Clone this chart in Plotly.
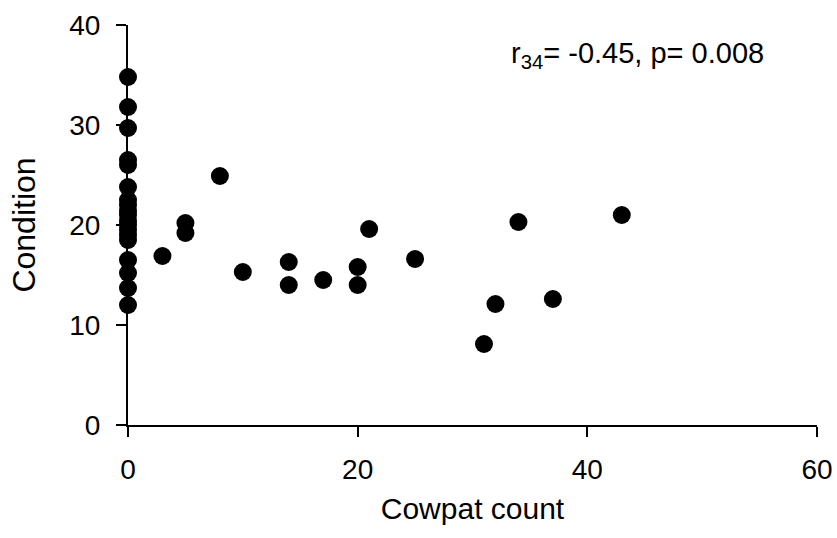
import plotly.graph_objects as go

# Data
cowpat_count = [0]*19 + [3, 5, 5, 8, 10, 14, 14, 17, 20, 20, 21, 25, 31, 32, 34, 37, 43]
condition = [34.8, 31.8, 29.7, 26.5, 26.0, 23.8, 22.5, 22.0, 21.4, 21.0, 20.4, 20.0, 19.5, 19.0, 18.5,
             16.5, 15.2, 13.7, 12.0,
             16.9, 20.2, 19.2, 24.9, 15.3, 16.3, 14.0, 14.5, 15.8, 14.0, 19.6, 16.6,
             8.1, 12.1, 20.3, 12.6, 21.0]
x_ticks = [0, 20, 40, 60]
y_ticks = [0, 10, 20, 30, 40]

FONT = "Liberation Sans, Arial, sans-serif"

fig = go.Figure()
fig.add_trace(go.Scatter(
    x=cowpat_count, y=condition, mode="markers",
    marker=dict(color="black", size=18, line=dict(width=0)),
    cliponaxis=False, showlegend=False,
))

fig.add_annotation(
    x=44.4, y=37, xref="x", yref="y",
    text="r<sub>34</sub>= -0.45, p= 0.008",
    showarrow=False, font=dict(family=FONT, size=29, color="black"),
)

axis_common = dict(
    showgrid=False, zeroline=False, showline=True, linecolor="black", linewidth=2,
    ticks="outside", ticklen=10, tickwidth=2, tickcolor="black",
    tickfont=dict(family=FONT, size=28, color="black"),
    automargin=False,
)

fig.update_xaxes(range=[0, 60], tickvals=x_ticks, ticklabelstandoff=8,
                 title=dict(text="Cowpat count", font=dict(family=FONT, size=30, color="black"), standoff=14),
                 **axis_common)
fig.update_yaxes(range=[0, 40], tickvals=y_ticks, ticklabelstandoff=10,
                 title=dict(text="Condition", font=dict(family=FONT, size=32, color="black"), standoff=24),
                 **axis_common)

fig.update_layout(
    width=837, height=538,
    margin=dict(l=128, r=20, t=25, b=113, autoexpand=False),
    plot_bgcolor="white", paper_bgcolor="white",
    font=dict(family=FONT, color="black"),
)

fig.write_html(
    "out.html",
    config={"displayModeBar": False},
    post_script="document.body.style.margin='0';document.body.style.overflow='hidden';",
)
